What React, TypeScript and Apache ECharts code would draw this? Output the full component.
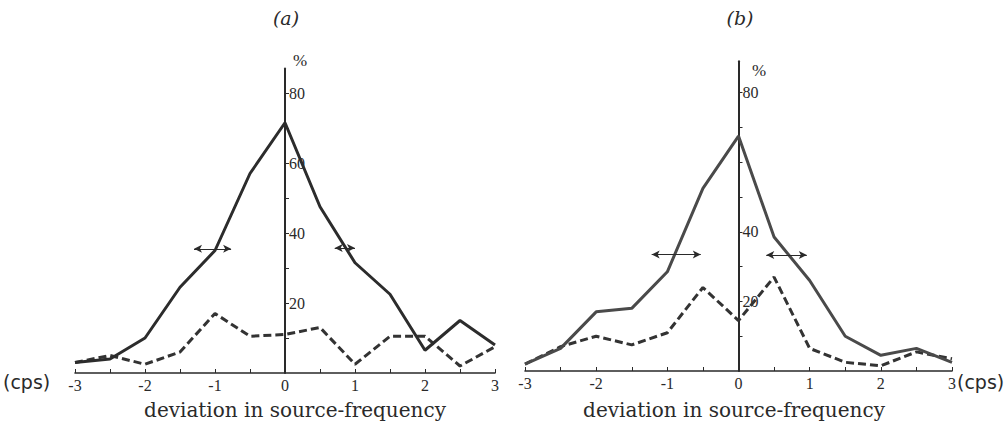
import React, { useEffect, useRef } from "react";
import * as echarts from "echarts";

// Deviation in source frequency (cps), sampled every 0.5 cps
const deviation = [-3, -2.5, -2, -1.5, -1, -0.5, 0, 0.5, 1, 1.5, 2, 2.5, 3];

// Panel (a) percentages
const solidA = [3, 4, 10, 24.5, 35, 57, 71.5, 47.5, 31.5, 22.5, 6.5, 15, 8];
const dashedA = [3, 5, 2.5, 6, 17, 10.5, 11, 13, 2.5, 10.5, 10.5, 2, 7.5];

// Panel (b) percentages
const solidB = [2, 6.5, 17, 18, 28.5, 52.5, 67.5, 38.5, 26, 10, 4.5, 6.5, 2.5];
const dashedB = [2, 7, 10, 7.5, 11, 24, 14.5, 27, 6.5, 2.5, 1.5, 5.5, 3.5];

// Double-headed range arrows: [fromX, toX, y]
const arrowsA = [
  [-1.3, -0.77, 35.5],
  [0.71, 1.0, 35.7],
];
const arrowsB = [
  [-1.22, -0.53, 33.5],
  [0.39, 0.96, 33.3],
];

// Tick labels
const xLabels = [-3, -2, -1, 0, 1, 2, 3];
const yLabelsA = [20, 40, 60, 80];
const yLabelsB = [20, 40, 80];
const yTicks = [10, 20, 30, 40, 50, 60, 70, 80];

const ink = "#2a2a2a";
const digitFont = "Liberation Serif";

function pairs(ys: number[]) {
  return deviation.map((x, i) => [x, ys[i]]);
}

function arrowLines(list: number[][]) {
  return list.map(([x0, x1, y]) => [{ coord: [x0, y] }, { coord: [x1, y] }]);
}

function xAxisFor(gridIndex: number) {
  return {
    type: "value",
    gridIndex,
    min: -3,
    max: 3,
    interval: 0.5,
    splitLine: { show: false },
    axisLine: { onZero: false, lineStyle: { color: ink, width: 1.6 } },
    axisTick: { show: true, inside: true, length: 4, lineStyle: { color: ink, width: 1 } },
    axisLabel: {
      margin: 4,
      color: ink,
      fontFamily: digitFont,
      fontSize: 16,
      formatter: (v: number) => (xLabels.includes(v) ? String(v) : ""),
    },
  };
}

// The vertical axis sits on x = 0, pulled inward from the grid's left edge
function yAxisFor(gridIndex: number, max: number, labels: number[], offset: number) {
  return {
    type: "value",
    gridIndex,
    min: 0,
    max,
    offset,
    splitLine: { show: false },
    axisLine: { onZero: false, lineStyle: { color: ink, width: 2 } },
    axisTick: {
      show: true,
      inside: true,
      length: 4,
      customValues: yTicks,
      lineStyle: { color: ink, width: 1 },
    },
    axisLabel: {
      inside: true,
      margin: 4,
      color: ink,
      fontFamily: digitFont,
      fontSize: 16,
      customValues: labels,
      formatter: (v: number) => (labels.includes(v) ? String(v) : ""),
    },
  };
}

function seriesFor(idx: number, solid: number[], dashed: number[], arrows: number[][], solidColor: string) {
  return [
    {
      type: "line",
      xAxisIndex: idx,
      yAxisIndex: idx,
      data: pairs(solid),
      symbol: "none",
      lineStyle: { color: solidColor, width: 3 },
      z: 3,
      markLine: {
        silent: true,
        symbol: ["arrow", "arrow"],
        symbolSize: [6, 8],
        label: { show: false },
        lineStyle: { color: ink, width: 1, type: "solid" },
        data: arrowLines(arrows),
      },
    },
    {
      type: "line",
      xAxisIndex: idx,
      yAxisIndex: idx,
      data: pairs(dashed),
      symbol: "none",
      lineStyle: { color: "#333333", width: 3, type: [8, 4] },
      z: 2,
    },
  ];
}

export default function App() {
  const ref = useRef<HTMLDivElement>(null);

  useEffect(() => {
    if (!ref.current) return;
    const chart = echarts.init(ref.current, null, { renderer: "svg" });
    const serif = "Liberation Serif";
    const caption = `20px "DejaVu Serif"`;
    const title = `italic 19px "DejaVu Serif"`;
    chart.setOption({
      animation: false,
      backgroundColor: "#ffffff",
      grid: [
        { left: 75, top: 68.5, width: 420, height: 304.5 },
        { left: 525, top: 61.3, width: 427, height: 309.7 },
      ],
      xAxis: [xAxisFor(0), xAxisFor(1)],
      yAxis: [yAxisFor(0, 87, yLabelsA, -210), yAxisFor(1, 89, yLabelsB, -213.5)],
      series: [
        ...seriesFor(0, solidA, dashedA, arrowsA, "#2c2c2c"),
        ...seriesFor(1, solidB, dashedB, arrowsB, "#4a4a4a"),
      ],
      graphic: [
        { type: "text", x: 286, y: 18, style: { text: "(a)", font: title, fill: ink, align: "center", verticalAlign: "middle" } },
        { type: "text", x: 740, y: 18, style: { text: "(b)", font: title, fill: ink, align: "center", verticalAlign: "middle" } },
        { type: "text", x: 300, y: 60, style: { text: "%", font: `17px ${serif}`, fill: ink, align: "center", verticalAlign: "middle" } },
        { type: "text", x: 759, y: 70, style: { text: "%", font: `17px ${serif}`, fill: ink, align: "center", verticalAlign: "middle" } },
        { type: "text", x: 3, y: 382, style: { text: "(cps)", font: `19px "DejaVu Sans"`, fill: ink, verticalAlign: "middle" } },
        { type: "text", x: 957, y: 382, style: { text: "(cps)", font: `19px "DejaVu Sans"`, fill: ink, verticalAlign: "middle" } },
        { type: "text", x: 295, y: 410, style: { text: "deviation in source-frequency", font: caption, fill: ink, align: "center", verticalAlign: "middle" } },
        { type: "text", x: 734, y: 410, style: { text: "deviation in source-frequency", font: caption, fill: ink, align: "center", verticalAlign: "middle" } },
      ],
    });
    return () => chart.dispose();
  }, []);

  return (
    <div
      ref={ref}
      style={{ position: "fixed", left: 0, top: 0, width: 1006, height: 433 }}
    />
  );
}
